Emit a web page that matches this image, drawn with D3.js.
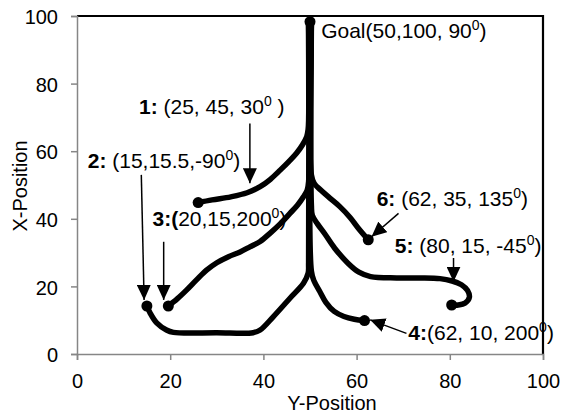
<!DOCTYPE html>
<meta charset="utf-8">
<style>
body { margin: 0; background: #fff; }
svg { font-family: "Liberation Sans", Arial, sans-serif; }
.axis path, .axis line { stroke: #868686; stroke-width: 1.5; }
.axis text { font-size: 20px; fill: #000; }
.path { fill: none; stroke: #000; stroke-width: 5.5; stroke-linejoin: round; stroke-linecap: round; }
.lbl { font-size: 21px; white-space: pre; }
.arrow { stroke: #000; stroke-width: 1.5; }
</style>
<svg width="561" height="418"></svg>
<script src="https://d3js.org/d3.v7.min.js"></script>
<script>

// robot trajectories, [Y-Position, X-Position], start point first, ending at the goal
var path1 = [[26,44.8],[29,45.6],[33,46.5],[36.5,47.7],[39.3,49.5],[41.5,51.7],[43.6,54.4],[45.5,57],[47.1,59.4],[48.4,61.9],[49.3,64.3],[49.6,66.5],[49.7,69],[49.7,98.3]],
    path2 = [[15,14.2],[15.7,12.1],[17.1,9.2],[19.2,7.1],[20.7,6.4],[30,6.3],[37.8,6.3],[39.3,7.1],[42.1,11],[45.7,16.5],[48.6,20.9],[49.6,23.9],[49.7,27],[49.7,98.3]],
    path3 = [[19.6,14.2],[21.5,16.3],[23.5,18.9],[25.7,22],[27.8,24.8],[30,27],[32.5,28.8],[35,30.2],[37.1,31.7],[39.3,33.3],[41.4,35.7],[43.6,38.5],[45.7,41.6],[47.3,44],[48.6,46.5],[49.4,48.5],[49.7,51],[49.7,98.3]],
    path4 = [[61.7,9.9],[59.5,10.3],[57.3,11.1],[55.2,12.6],[53.4,15.3],[52.1,18.5],[50.9,21.5],[50.3,24.5],[50.3,98.3]],
    path5 = [[80.4,14.5],[81.8,14.5],[83.3,15.1],[84.2,16.8],[83.8,18.8],[82.5,20.5],[80.5,21.6],[77.9,22.3],[73.6,22.5],[68.6,22.5],[63,22.9],[60.5,24.2],[58.2,26.8],[55.3,31.3],[53.2,35.5],[51.6,38.5],[50.5,41],[50.3,44],[50.3,98.3]],
    path6 = [[62.5,33.8],[60.5,37],[58.6,40.4],[56.4,43.6],[54.2,46.2],[52.3,48.5],[50.9,50.5],[50.3,53],[50.3,98.3]];

var paths = [path1, path2, path3, path4, path5, path6];
var goal = [50, 98.3];

var ticks = [0, 20, 40, 60, 80, 100];

// annotations: bold part, text, superscript degree, closing
var labelBold = ["", "1:", "2:", "3:(", "6:", "5:", "4:"],
    labelText = ["Goal(50,100, 90", " (25, 45, 30", " (15,15.5,-90", "20,15,200", " (62, 35, 135", " (80, 15, -45", "(62, 10, 200"],
    labelEnd  = [")", " )", ")", ")", ")", ")", ")"],
    labelX = [52.4, 13.3, 2.3, 16.2, 64.3, 68.2, 71.1],
    labelY = [93.5, 71.0, 55.0, 37.9, 43.8, 29.9, 4.1];

// arrows [from, to]
var arrowFrom = [[37.1,68.2],[13.8,53],[18.6,33.2],[69,41.6],[80.8,28.4],[70.7,6.1]],
    arrowTo   = [[37.1,50.5],[14.4,16],[18.6,16],[63.2,34.7],[80.8,21.4],[62.9,10.1]];

var svg = d3.select("svg");

var x = d3.scaleLinear().domain([0, 100]).range([77, 543]),
    y = d3.scaleLinear().domain([0, 100]).range([354, 16]);

svg.append("defs").append("marker")
    .attr("id", "head")
    .attr("markerUnits", "userSpaceOnUse")
    .attr("viewBox", "0 0 15 14")
    .attr("markerWidth", 15)
    .attr("markerHeight", 14)
    .attr("refX", 15)
    .attr("refY", 7)
    .attr("orient", "auto")
  .append("path")
    .attr("d", "M0,0L15,7L0,14Z")
    .attr("fill", "#000");

// frame: top and right border black
svg.append("path")
    .attr("d", "M" + x(0) + "," + y(100) + "H" + x(100) + "V" + y(0))
    .attr("fill", "none")
    .attr("stroke", "#000")
    .attr("stroke-width", 2.2);

var gx = svg.append("g")
    .attr("class", "axis")
    .attr("transform", "translate(0," + y(0) + ")")
    .call(d3.axisBottom(x).tickValues(ticks).tickSizeOuter(0).tickSize(6).tickPadding(14));
gx.selectAll("text").attr("dy", "0.71em").attr("y", 20);

var gy = svg.append("g")
    .attr("class", "axis")
    .attr("transform", "translate(" + x(0) + ",0)")
    .call(d3.axisLeft(y).tickValues(ticks).tickSizeOuter(0).tickSize(6).tickPadding(13));
gy.selectAll("text").attr("dy", "0.38em");

svg.append("text")
    .attr("x", 332)
    .attr("y", 410)
    .attr("text-anchor", "middle")
    .attr("font-size", 20)
    .text("Y-Position");

svg.append("text")
    .attr("transform", "translate(27,186) rotate(-90)")
    .attr("text-anchor", "middle")
    .attr("font-size", 20)
    .text("X-Position");

var line = d3.line()
    .x(function(d) { return x(d[0]); })
    .y(function(d) { return y(d[1]); })
    .curve(d3.curveCatmullRom.alpha(0.5));

svg.selectAll(".path")
  .data(paths)
  .enter().append("path")
    .attr("class", "path")
    .attr("d", line);

svg.selectAll(".dot")
  .data(paths.map(function(p) { return p[0]; }).concat([goal]))
  .enter().append("circle")
    .attr("class", "dot")
    .attr("cx", function(d) { return x(d[0]); })
    .attr("cy", function(d) { return y(d[1]); })
    .attr("r", 5.5);

svg.selectAll(".arrow")
  .data(arrowFrom)
  .enter().append("line")
    .attr("class", "arrow")
    .attr("x1", function(d) { return x(d[0]); })
    .attr("y1", function(d) { return y(d[1]); })
    .attr("x2", function(d, i) { return x(arrowTo[i][0]); })
    .attr("y2", function(d, i) { return y(arrowTo[i][1]); })
    .attr("marker-end", "url(#head)");

var lbl = svg.selectAll(".lbl")
  .data(labelText)
  .enter().append("text")
    .attr("class", "lbl")
    .attr("x", function(d, i) { return x(labelX[i]); })
    .attr("y", function(d, i) { return y(labelY[i]); });

lbl.append("tspan").attr("font-weight", "bold").text(function(d, i) { return labelBold[i]; });
lbl.append("tspan").text(function(d) { return d; });
lbl.append("tspan").attr("font-size", 14).attr("dy", -8).text("0");
lbl.append("tspan").attr("dy", 8).text(function(d, i) { return labelEnd[i]; });

</script>
